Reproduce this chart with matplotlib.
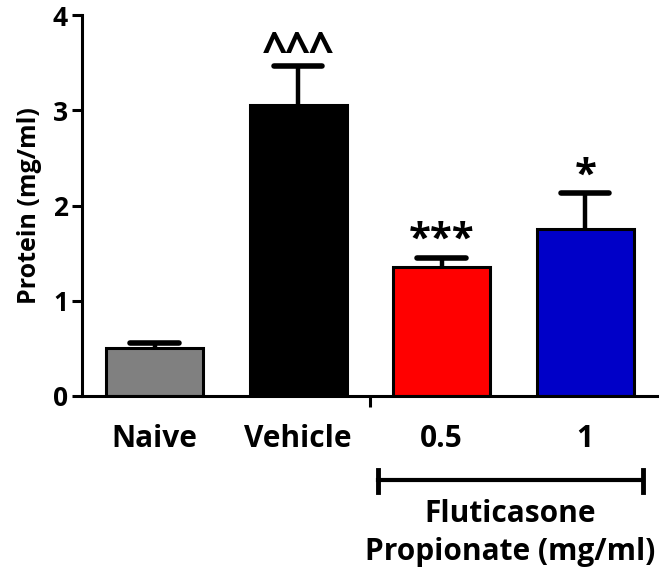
import numpy as np
import matplotlib
matplotlib.use("Agg")
import matplotlib.pyplot as plt

# ===== DATA =====
groups = ["Naive", "Vehicle", "0.5", "1"]
protein = [0.50, 3.05, 1.35, 1.75]
sem = [0.055, 0.41, 0.10, 0.38]
marks = ["", "^^^", "***", "*"]
colors = ["#808080", "#000000", "#FF0000", "#0000C8"]

plt.rcParams.update({"font.family": ["Open Sans", "DejaVu Sans"], "font.weight": "bold"})

fig = plt.figure(figsize=(6.62, 5.78), dpi=100)
ax = fig.add_axes([82/662, 1-396/578, (657-82)/662, (396-15)/578])

x = np.arange(len(groups))
w = 0.675
ax.bar(x, protein, w, color=colors, edgecolor="black", linewidth=2.2, zorder=2)
top = np.array(protein) + np.array(sem)
ax.vlines(x, protein, top, color="black", lw=3.2, zorder=1)
ax.hlines(top, x - w/4, x + w/4, color="black", lw=4, capstyle="round", zorder=3)

for xi, t, m in zip(x, top, marks):
    if not m:
        continue
    if m.startswith("*"):
        ax.annotate(m, (xi, t), xytext=(0, -1.5), textcoords="offset points",
                    ha="center", va="bottom", fontsize=29, fontweight="bold")
    else:
        ax.annotate(m, (xi, t), xytext=(0, -6), textcoords="offset points",
                    ha="center", va="bottom", fontsize=32, fontweight="bold")

ax.set_xlim(-0.505, 3.5)
ax.set_ylim(0, 4)
ax.set_yticks([0, 1, 2, 3, 4])
ax.set_xticks(x)
ax.set_xticklabels(groups)
ax.set_xticks([1.5], minor=True)
ax.tick_params(axis="x", which="major", length=0, pad=20.5, labelsize=21.5)
ax.tick_params(axis="x", which="minor", length=8, width=2.2, direction="out")
ax.tick_params(axis="y", length=7, width=2.2, labelsize=19, pad=3)
for s in ["top", "right"]:
    ax.spines[s].set_visible(False)
for s in ["left", "bottom"]:
    ax.spines[s].set_linewidth(2.2)
ax.set_ylabel("Protein (mg/ml)", fontsize=18, fontweight="bold", labelpad=8)

# group bracket under the drug doses
tr = ax.get_xaxis_transform()
x0, x1 = 1.557, 3.40
ax.plot([x0, x1], [-0.2205, -0.2205], transform=tr, color="black", lw=3, clip_on=False)
for xe in (x0, x1):
    ax.plot([xe, xe], [-0.194, -0.252], transform=tr, color="black", lw=3.5, clip_on=False)
xc = (x0 + x1) / 2
ax.text(xc, -0.3307, "Fluticasone", transform=tr, ha="center", va="baseline", fontsize=21.5, fontweight="bold")
ax.text(xc, -0.4304, "Propionate (mg/ml)", transform=tr, ha="center", va="baseline", fontsize=21.5, fontweight="bold")

fig.savefig("out.png", dpi=100)
